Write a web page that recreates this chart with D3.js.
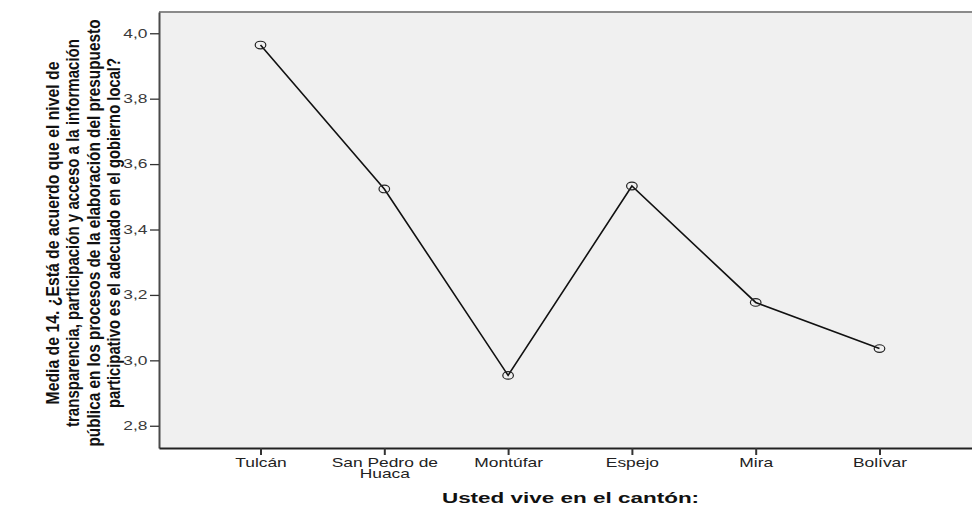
<!DOCTYPE html>
<html>
<head>
<meta charset="utf-8">
<script src="https://cdn.jsdelivr.net/npm/d3@7"></script>
<style>
  html, body { margin: 0; padding: 0; background: #fff; }
  svg { display: block; }
</style>
</head>
<body>
<svg id="chart" width="972" height="508"></svg>
<script>
// ---- data ----
const categories = ["Tulcán", "San Pedro de Huaca", "Montúfar", "Espejo", "Mira", "Bolívar"];
const categoryLabelLines = [["Tulcán"], ["San Pedro de", "Huaca"], ["Montúfar"], ["Espejo"], ["Mira"], ["Bolívar"]];
const meanValues = [3.964, 3.524, 2.954, 3.533, 3.177, 3.036];
const yTicks = [2.8, 3.0, 3.2, 3.4, 3.6, 3.8, 4.0];
const yTickLabels = ["2,8", "3,0", "3,2", "3,4", "3,6", "3,8", "4,0"];
const yTitleLines = [
  "Media de 14. ¿Está de acuerdo que el nivel de",
  "transparencia, participación y acceso a la información",
  "pública en los procesos de la elaboración del presupuesto",
  "participativo es el adecuado en el gobierno local?"
];
const xTitle = "Usted vive en el cantón:";

// ---- layout ----
const svg = d3.select("#chart");
const plot = { left: 159, top: 12, right: 981, bottom: 448 };
const stretch = 1.45;

const x = d3.scalePoint().domain(categories).range([plot.left, plot.right]).padding(0.82);
const y = d3.scaleLinear().domain([2.732, 4.065]).range([plot.bottom, plot.top]);

// background
svg.append("rect")
  .attr("x", plot.left).attr("y", plot.top)
  .attr("width", plot.right - plot.left).attr("height", plot.bottom - plot.top)
  .attr("fill", "#f0f0f0");

// top border
svg.append("line")
  .attr("x1", plot.left).attr("x2", 972)
  .attr("y1", plot.top).attr("y2", plot.top)
  .attr("stroke", "#8a8a8a").attr("stroke-width", 2);

// y axis
const yAxis = d3.axisLeft(y).tickValues(yTicks)
  .tickFormat((d, i) => yTickLabels[i]).tickSize(9).tickSizeOuter(0).tickPadding(0);
const gy = svg.append("g").attr("transform", `translate(${plot.left},0)`).call(yAxis);
gy.select(".domain").attr("stroke", "#4a4a4a").attr("stroke-width", 2);
gy.selectAll(".tick line").attr("stroke", "#333").attr("stroke-width", 1.3);
gy.selectAll(".tick text")
  .attr("font-family", "Liberation Sans, Arial, sans-serif")
  .attr("font-size", 12).attr("fill", "#3a3a3a")
  .attr("x", -11.5 / stretch)
  .attr("transform", `scale(${stretch},1)`);

// x axis
const xAxis = d3.axisBottom(x).tickSize(7).tickSizeOuter(0).tickFormat(() => "");
const gx = svg.append("g").attr("transform", `translate(0,${plot.bottom})`).call(xAxis);
gx.select(".domain").attr("stroke", "#222").attr("stroke-width", 2);
gx.selectAll(".tick line").attr("stroke", "#333").attr("stroke-width", 2);
gx.selectAll(".tick text").each(function(d) {
  const lines = categoryLabelLines[categories.indexOf(d)];
  const t = d3.select(this)
    .attr("font-family", "Liberation Sans, Arial, sans-serif")
    .attr("font-size", 12).attr("fill", "#222")
    .attr("y", 0).attr("dy", null)
    .attr("transform", `scale(${stretch},1)`);
  lines.forEach((ln, i) => {
    t.append("tspan").attr("x", 0).attr("y", 19 + i * 11).text(ln);
  });
});

// line
const pts = categories.map((c, i) => [x(c), y(meanValues[i])]);
svg.append("path")
  .attr("d", d3.line()(pts))
  .attr("fill", "none").attr("stroke", "#111").attr("stroke-width", 1.6);

// markers
svg.selectAll("ellipse.mk").data(pts).join("ellipse")
  .attr("class", "mk")
  .attr("cx", d => d[0]).attr("cy", d => d[1])
  .attr("rx", 5.3).attr("ry", 3.8)
  .attr("fill", "none").attr("stroke", "#222").attr("stroke-width", 1.2);

// x title
const cx = (plot.left + 972) / 2 + 5;
svg.append("text")
  .attr("x", cx / stretch).attr("y", 503)
  .attr("text-anchor", "middle")
  .attr("transform", `scale(${stretch},1)`)
  .attr("font-family", "Liberation Sans, Arial, sans-serif")
  .attr("font-weight", "bold").attr("font-size", 15.5).attr("fill", "#111")
  .text(xTitle);

// y title (condensed glyphs: fit each line to the reference length)
const lineCenters = [52, 72.5, 93, 113.5];
const lineLengths = [343, 388, 427, 350];
yTitleLines.forEach((ln, i) => {
  svg.append("text")
    .attr("transform", "rotate(-90)")
    .attr("text-anchor", "middle")
    .attr("font-family", "'Liberation Sans', Arial, sans-serif")
    .attr("font-weight", "bold").attr("font-size", 18.5).attr("fill", "#111")
    .attr("x", -233).attr("y", lineCenters[i]).attr("dy", "0.36em")
    .attr("textLength", lineLengths[i])
    .attr("lengthAdjust", "spacingAndGlyphs")
    .text(ln);
});
</script>
</body>
</html>
